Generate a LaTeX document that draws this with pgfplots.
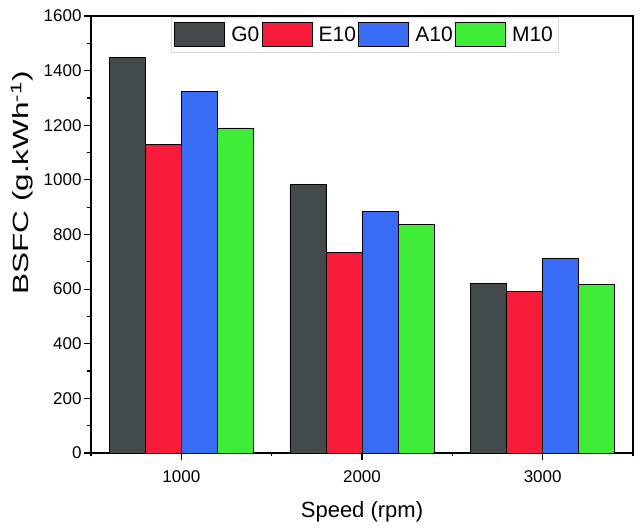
\documentclass[border=0pt]{standalone}
\usepackage{fontspec}
\setmainfont{Liberation Sans}
\usepackage{pgfplots}
\pgfplotsset{compat=1.18}
\usetikzlibrary{calc}
\definecolor{cG}{HTML}{434A4A}
\definecolor{cE}{HTML}{F91C3A}
\definecolor{cA}{HTML}{386CF6}
\definecolor{cM}{HTML}{3FEC38}
\begin{document}
\begin{tikzpicture}
\begin{axis}[
  scale only axis,
  width=542pt, height=437pt,
  ybar=0pt, bar width=36pt,
  xmin=-0.5, xmax=2.5,
  ymin=0, ymax=1600,
  xtick={0,1,2}, xticklabels={1000,2000,3000},
  minor xtick={-0.5,0.5,1.5,2.5},
  ytick={0,200,...,1600},
  minor ytick={100,300,...,1500},
  xtick pos=bottom, ytick pos=left,
  tick align=outside,
  major tick length=7pt, minor tick length=3.5pt,
  every tick/.style={black, line width=1.2pt},
  axis line style={line width=1.5pt},
  /pgf/number format/assume math mode=true,
  ticklabel style={font=\fontsize{17}{20}\selectfont},
  xticklabel style={yshift=-7pt},
  yticklabel style={xshift=1pt, /pgf/number format/.cd, set thousands separator={}},
  xlabel={Speed (rpm)},
  ylabel={\scalebox{1.43}[1]{BSFC (g.kWh\textsuperscript{-1})}},
  label style={font=\fontsize{22}{26}\selectfont},
  xlabel style={at={(axis description cs:0.5,-0.1487)}, anchor=base},
  ylabel style={at={(axis description cs:-0.1273,0.618)}, anchor=center},
  legend columns=4,
  legend style={at={(axis description cs:0.148,0.998)}, anchor=north west,
    draw=black!15, fill=white, inner xsep=3pt, inner ysep=5pt,
    font=\fontsize{21}{24}\selectfont,
    nodes={inner xsep=2.5pt, inner ysep=3pt},
    /tikz/every even column/.append style={column sep=0pt}},
  legend image code/.code={\draw[#1, draw=black, line width=0.8pt] (0pt,-12pt) rectangle (50pt,12pt); \path (53.5pt,0pt);},
  every axis plot/.append style={draw=black, line width=0.9pt},
]
\addplot[fill=cG] coordinates {(0,1449) (1,982) (2,620)};
\addplot[fill=cE] coordinates {(0,1128) (1,733) (2,590)};
\addplot[fill=cA] coordinates {(0,1324) (1,885) (2,713)};
\addplot[fill=cM] coordinates {(0,1190) (1,835) (2,617)};
\legend{G0,E10,A10,M10}
\end{axis}
\pgfresetboundingbox
\path[use as bounding box] ($(current axis.south west)+(-91pt,-76pt)$) rectangle ($(current axis.north east)+(7pt,16pt)$);
\end{tikzpicture}
\end{document}
